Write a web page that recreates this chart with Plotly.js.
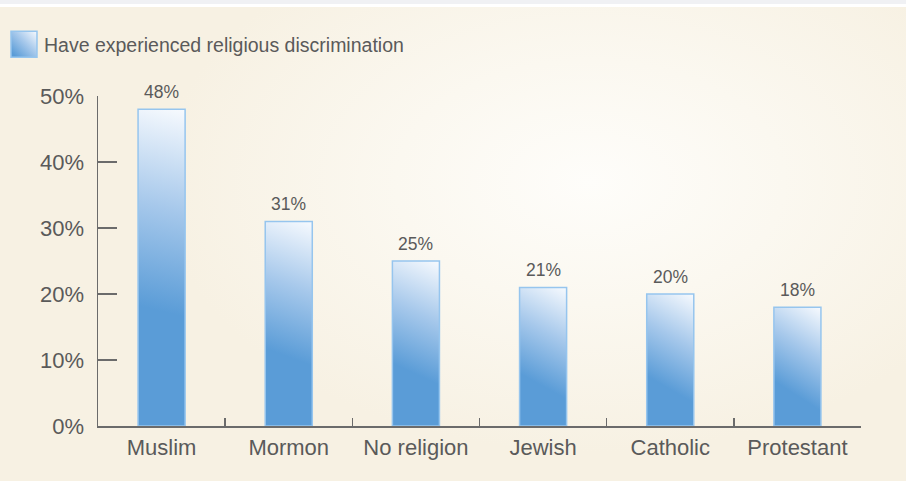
<!DOCTYPE html>
<html>
<head>
<meta charset="utf-8">
<script src="https://cdn.plot.ly/plotly-3.0.1.min.js"></script>
<style>
  html, body { margin: 0; padding: 0; }
  body {
    width: 906px; height: 481px; overflow: hidden;
    background: #f0f1f4;
  }
  #wrap {
    position: absolute; left: 0; top: 4px; width: 906px; height: 477px;
    background: #ffffff;
  }
  #bgc {
    position: absolute; left: 0; top: 7px; width: 906px; height: 474px;
    background: radial-gradient(ellipse 430px 270px at 590px 175px, #fefdfa 0%, #fbf8f0 45%, #f7f1e3 100%);
  }
  #chart { position: absolute; left: 0; top: 0; width: 906px; height: 481px; }
</style>
</head>
<body>
<div id="wrap"></div>
<div id="bgc"></div>
<div id="chart"></div>
<script>
const categories = ["Muslim", "Mormon", "No religion", "Jewish", "Catholic", "Protestant"];
const values = [48, 31, 25, 21, 20, 18];
const seriesName = "Have experienced religious discrimination";
const yTickVals = [0, 10, 20, 30, 40, 50];
const yTickText = ["0%", "10%", "20%", "30%", "40%", "50%"];

const FONT = '"Liberation Sans", Arial, Helvetica, sans-serif';
const TXT = '#5a5a5a';
const AX = '#6b6b6b';

const trace = {
  type: 'bar',
  x: categories,
  y: values,
  name: seriesName,
  width: 0.37,
  marker: { color: '#5a9cd7', line: { color: '#96c5ee', width: 1.5 } },
  hoverinfo: 'skip',
  showlegend: true
};

const annotations = categories.map((c, i) => ({
  x: c, y: values[i], xref: 'x', yref: 'y',
  text: values[i] + '%', showarrow: false,
  yanchor: 'bottom', yshift: 5,
  font: { family: FONT, size: 17.5, color: TXT }
}));

const layout = {
  width: 906, height: 481,
  paper_bgcolor: 'rgba(0,0,0,0)',
  plot_bgcolor: 'rgba(0,0,0,0)',
  margin: { l: 98, r: 45, t: 96, b: 55, autoexpand: false },
  font: { family: FONT, color: TXT },
  showlegend: true,
  legend: {
    orientation: 'h', xref: 'container', yref: 'container',
    x: 0.0044, y: 0.948, xanchor: 'left', yanchor: 'top',
    font: { family: FONT, size: 19.5, color: TXT },
    bgcolor: 'rgba(0,0,0,0)'
  },
  xaxis: {
    type: 'category',
    showline: true, linecolor: AX, linewidth: 1.5,
    ticks: 'inside', ticklen: 8, tickcolor: AX, tickwidth: 1.5,
    tickson: 'boundaries',
    tickfont: { family: FONT, size: 22, color: TXT },
    ticklabelstandoff: 1,
    showgrid: false, zeroline: false, fixedrange: true
  },
  yaxis: {
    range: [0, 50],
    tickvals: yTickVals, ticktext: yTickText,
    showline: true, linecolor: AX, linewidth: 1.5,
    ticks: 'inside', ticklen: 19, tickcolor: AX, tickwidth: 1.5,
    tickfont: { family: FONT, size: 22, color: TXT },
    ticklabelstandoff: 8,
    showgrid: false, zeroline: false, fixedrange: true
  },
  annotations: annotations
};

const NS = 'http://www.w3.org/2000/svg';
function makeGrad(defs, id, x1, y1, x2, y2, units) {
  const g = document.createElementNS(NS, 'linearGradient');
  g.setAttribute('id', id);
  if (units) g.setAttribute('gradientUnits', units);
  g.setAttribute('x1', x1); g.setAttribute('y1', y1);
  g.setAttribute('x2', x2); g.setAttribute('y2', y2);
  [['0', '#f7fafe'], ['0.5', '#a6c8eb'], ['1', '#5a9cd7']].forEach(([o, c]) => {
    const s = document.createElementNS(NS, 'stop');
    s.setAttribute('offset', o); s.setAttribute('stop-color', c);
    g.appendChild(s);
  });
  defs.appendChild(g);
}

function addGradient(gd) {
  const svg = gd.querySelector('svg.main-svg');
  let defs = svg.querySelector('defs');
  if (!defs) { defs = document.createElementNS(NS, 'defs'); svg.insertBefore(defs, svg.firstChild); }
  gd.querySelectorAll('.bars .point path').forEach((p, i) => {
    const b = p.getBBox();
    const id = 'barGrad' + i;
    makeGrad(defs, id, b.x + b.width, b.y, b.x, b.y + Math.max(b.height * 0.62, 60), 'userSpaceOnUse');
    p.style.setProperty('fill', 'url(#' + id + ')');
  });
  makeGrad(defs, 'legGrad', '1', '0', '0.1', '0.9');
  gd.querySelectorAll('.legendpoints path').forEach(p => {
    p.setAttribute('d', 'M13,13H-13V-13H13Z');
    p.style.setProperty('fill', 'url(#legGrad)');
  });
}

Plotly.newPlot('chart', [trace], layout, { displayModeBar: false, staticPlot: true }).then(addGradient);
</script>
</body>
</html>
